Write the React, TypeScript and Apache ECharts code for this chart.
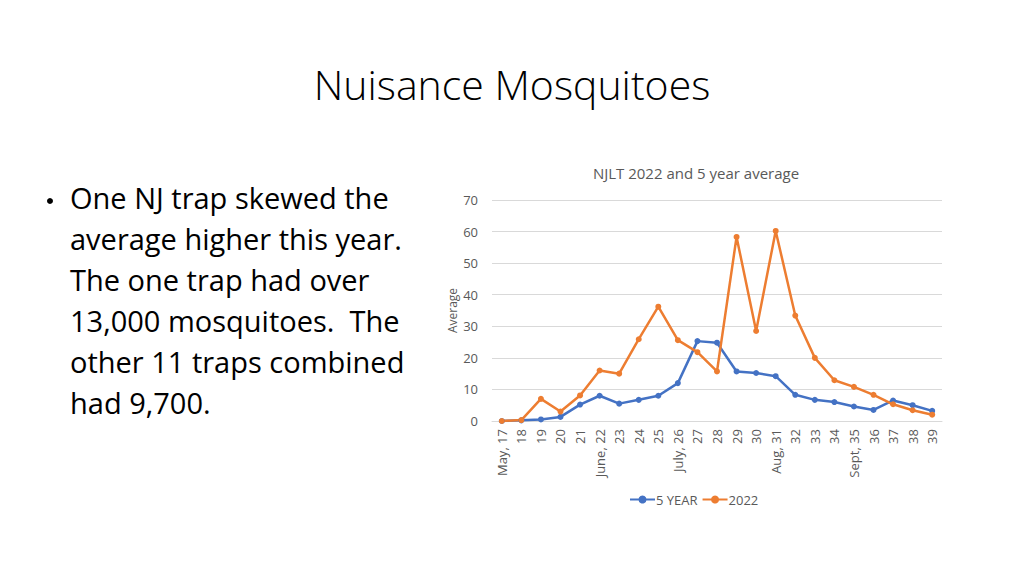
import React, { useEffect, useRef } from "react";
import * as echarts from "echarts";

const categories = [
  "May, 17", "18", "19", "20", "21", "June, 22", "23", "24", "25", "July, 26",
  "27", "28", "29", "30", "Aug, 31", "32", "33", "34", "Sept, 35", "36", "37", "38", "39",
];
const fiveYear = [0, 0.2, 0.5, 1.3, 5.2, 8, 5.5, 6.7, 8, 12, 25.3, 24.8, 15.7, 15.2, 14.2, 8.3, 6.7, 6, 4.6, 3.5, 6.5, 5, 3.2];
const y2022 = [0, 0.3, 7, 3, 8.1, 16, 15, 25.9, 36.2, 25.6, 21.8, 15.7, 58.3, 28.5, 60.2, 33.4, 20, 12.9, 10.8, 8.3, 5.3, 3.4, 2];
const bulletLines = [
  "One NJ trap skewed the",
  "average higher this year.",
  "The one trap had over",
  "13,000 mosquitoes.  The",
  "other 11 traps combined",
  "had 9,700.",
];
const slideTitle = "Nuisance Mosquitoes";
const chartTitle = "NJLT 2022 and 5 year average";

const FONT = "'Open Sans', Lato, sans-serif";

export default function App() {
  const ref = useRef<HTMLDivElement>(null);
  useEffect(() => {
    document.body.style.margin = "0";
    const chart = echarts.init(ref.current!, null, { renderer: "svg" });
    const bulletGraphics = bulletLines.map((t, i) => ({
      type: "text",
      left: 70,
      top: 183 + i * 41,
      style: { text: t, font: `29px ${FONT}`, fill: "#000" },
    }));
    chart.setOption({
      animation: false,
      backgroundColor: "#fff",
      textStyle: { fontFamily: FONT },
      title: {
        text: chartTitle,
        left: 691,
        top: 160,
        textAlign: "center",
        textStyle: { fontSize: 15, fontWeight: "normal", color: "#595959", fontFamily: FONT },
      },
      graphic: [
        {
          type: "text",
          left: "center",
          top: 63,
          style: { text: slideTitle, font: `300 41px ${FONT}`, fill: "#000" },
        },
        {
          type: "circle",
          shape: { cx: 50, cy: 201, r: 3 },
          style: { fill: "#000" },
        },
        ...bulletGraphics,
      ],
      legend: {
        bottom: 65,
        left: 624,
        orient: "horizontal",
        itemGap: 4,
        itemWidth: 25,
        itemHeight: 10,
        textStyle: { fontSize: 13, color: "#595959", fontFamily: FONT, padding: [0, 0, 0, -4] },
        data: ["5 YEAR", "2022"],
      },
      grid: { left: 492, right: 82, top: 200, bottom: 155, containLabel: false },
      xAxis: {
        type: "category",
        data: categories,
        boundaryGap: true,
        axisLine: { lineStyle: { color: "#d9d9d9" } },
        axisTick: { show: false },
        axisLabel: { rotate: 90, interval: 0, fontSize: 13, color: "#595959", margin: 8 },
      },
      yAxis: {
        type: "value",
        min: 0,
        max: 70,
        interval: 10,
        name: "Average",
        nameLocation: "middle",
        nameGap: 34,
        nameTextStyle: { fontSize: 12, color: "#595959" },
        axisLine: { show: false },
        axisTick: { show: false },
        axisLabel: { fontSize: 13, color: "#595959", margin: 14 },
        splitLine: { lineStyle: { color: "#d9d9d9" } },
      },
      series: [
        {
          name: "5 YEAR",
          type: "line",
          data: fiveYear,
          symbol: "circle",
          symbolSize: 6,
          lineStyle: { width: 2.5, color: "#4472C4" },
          itemStyle: { color: "#4472C4" },
        },
        {
          name: "2022",
          type: "line",
          data: y2022,
          symbol: "circle",
          symbolSize: 6,
          lineStyle: { width: 2.5, color: "#ED7D31" },
          itemStyle: { color: "#ED7D31" },
        },
      ],
    });
    return () => chart.dispose();
  }, []);
  return <div ref={ref} style={{ width: 1024, height: 576 }} />;
}
